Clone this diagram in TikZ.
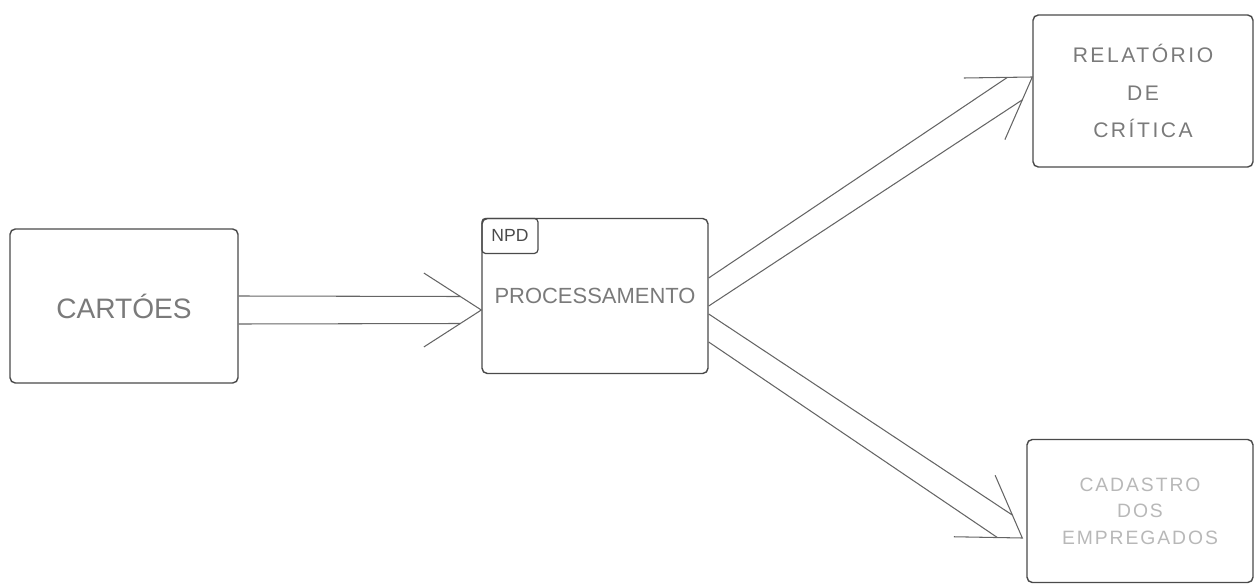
\documentclass[tikz,border=0pt]{standalone}
\usepackage{fontspec}
\setmainfont{Liberation Sans}
\usetikzlibrary{calc}
\definecolor{penline}{HTML}{4A4A4A}
\definecolor{pentext}{HTML}{7A7A7A}
\definecolor{fadetext}{HTML}{B8B8B8}

% hollow arrow: two shaft lines from the box edge and an open head
\newcommand{\flowarrow}[2]{%
  \draw[flowline] ($(#1)+(0,-\fwpx)$) -- ($(#2)!\fe!(#1)!\fw!-90:(#1)$);
  \draw[flowline] ($(#1)+(0,\fwpx)$) -- ($(#2)!\fe!(#1)!\fw!90:(#1)$);
  \draw[flowline] ($(#2)!\bl!(#1)!\bs!90:(#1)$) -- (#2) -- ($(#2)!\bl!(#1)!\bs!-90:(#1)$);
}
\newcommand{\fwpx}{14}
\newcommand{\fw}{0.27cm}
\newcommand{\fe}{0.42cm}
\newcommand{\bl}{1.15cm}
\newcommand{\bs}{0.74cm}

\begin{document}
\begin{tikzpicture}[
    x=0.02cm, y=-0.02cm,
    every node/.style={font=\fontsize{12}{14}\selectfont, text=pentext},
    card/.style={
      rectangle, rounded corners=3pt, draw=penline, line width=0.8pt,
      align=center, inner sep=0pt
    },
    tab/.style={
      rectangle, rounded corners=2pt, draw=penline, line width=0.7pt,
      minimum width=1.12cm, minimum height=0.7cm, inner sep=0pt,
      font=\fontsize{10}{12}\selectfont, text=penline
    },
    flowline/.style={line width=0.6pt, color=penline!85},
  ]

  \useasboundingbox (0,0) rectangle (1254,588);

  \node[card, minimum width=4.56cm, minimum height=3.08cm,
        font=\fontsize{16}{18}\selectfont] (cart) at (124,306) {CARTÓES};
  \node[card, minimum width=4.52cm, minimum height=3.1cm,
        font=\fontsize{12.5}{14}\selectfont] (proc) at (595,296) {PROCESSAMENTO};
  \node[tab, anchor=north west] (npd) at (proc.north west) {NPD};

  \node[card, minimum width=4.4cm, minimum height=3.04cm,
        font=\fontsize{12}{21.5}\selectfont\addfontfeature{LetterSpace=12}]
        (rel) at (1143,91) {RELATÓRIO\\DE\\CRÍTICA};
  \node[card, minimum width=4.52cm, minimum height=2.86cm, text=fadetext,
        font=\fontsize{11}{15}\selectfont\addfontfeature{LetterSpace=10}]
        (cad) at (1140,511) {CADASTRO\\DOS\\EMPREGADOS};

  \coordinate (cartout) at ($(cart.east)+(0,4)$);
  \coordinate (procin)  at ($(proc.west)+(0,14)$);
  \coordinate (procup)  at ($(proc.east)+(0,-4)$);
  \coordinate (procdn)  at ($(proc.east)+(0,32)$);
  \coordinate (relin)   at ($(rel.west)+(0,-14)$);
  \coordinate (cadin)   at ($(cad.west)+(-4,27)$);

  \flowarrow{cartout}{procin}
  \flowarrow{procup}{relin}
  \flowarrow{procdn}{cadin}

\end{tikzpicture}
\end{document}
